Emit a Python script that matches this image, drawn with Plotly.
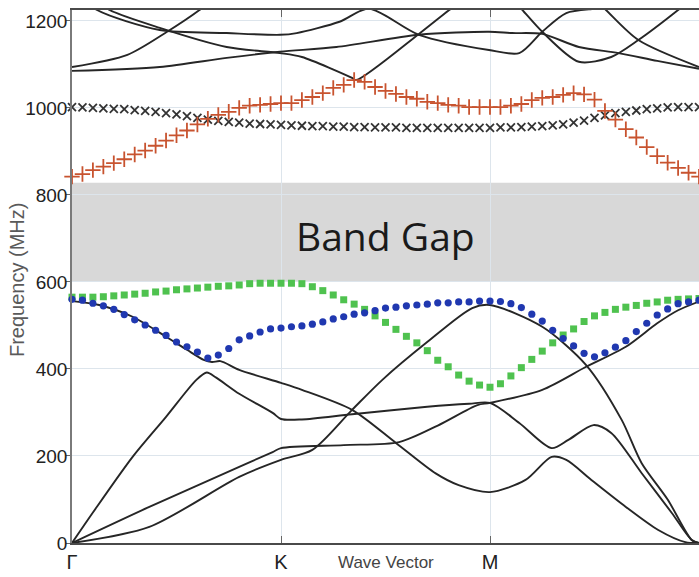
import plotly.graph_objects as go

# ---------------- data ----------------
path_ticks = [0, 20, 40, 60]
path_labels = ["Γ", "K", "M", "Γ"]
freq_ticks = [0, 200, 400, 600, 800, 1000, 1200]
freq_range = [0, 1225]
band_gap = [600, 828]

# marker bands (one value per k-point along Γ-K-M-Γ, 61 points)
red_plus = [842, 848, 857, 865, 873, 882, 893, 902, 913, 925,
            937, 948, 962, 975, 984, 991, 1000, 1005, 1007, 1009,
            1011, 1011, 1018, 1025, 1034, 1046, 1053, 1064, 1060, 1048,
            1039, 1032, 1025, 1021, 1014, 1011, 1007, 1005, 1002, 1002,
            1002, 1002, 1005, 1009, 1018, 1023, 1025, 1030, 1034, 1031,
            1019, 993, 973, 951, 932, 910, 889, 874, 862, 851,
            842]
black_x = [1002, 1001, 1000, 999, 998, 997, 995, 993, 991, 988,
           985, 981, 977, 973, 970, 968, 966, 964, 963, 962,
           961, 960, 959, 958, 958, 957, 957, 956, 956, 955,
           955, 955, 954, 954, 954, 954, 954, 954, 954, 954,
           954, 955, 955, 956, 957, 958, 960, 962, 966, 971,
           977, 983, 988, 991, 994, 997, 999, 1001, 1002, 1002,
           1002]
green_sq = [565, 565, 565, 566, 568, 570, 572, 574, 577, 579,
            582, 584, 586, 588, 590, 591, 593, 596, 597, 597,
            597, 597, 596, 589, 580, 570, 559, 549, 537, 522,
            507, 491, 475, 460, 442, 420, 405, 386, 372, 363,
            358, 366, 384, 403, 422, 441, 460, 478, 492, 509,
            522, 530, 537, 542, 546, 551, 554, 558, 560, 561,
            562]
blue_dot = [560, 558, 551, 545, 537, 525, 513, 501, 489, 477,
            462, 451, 439, 425, 432, 447, 467, 476, 485, 492,
            494, 497, 499, 503, 508, 515, 520, 526, 529, 534,
            540, 542, 545, 547, 549, 552, 552, 554, 554, 556,
            556, 555, 550, 541, 526, 510, 489, 470, 453, 436,
            428, 437, 450, 465, 486, 505, 524, 538, 550, 554,
            558]

# continuous bands (k position, frequency)
band1_k = [0, 2, 5.8, 9, 11.9, 12.9, 13.8, 16, 19.2, 20, 22, 26.8, 34, 38, 40,
           42.8, 45.9, 47.5, 49.9, 51.6, 54.5, 57.4, 59.3, 60]
band1_f = [0, 70, 198, 290, 375, 392, 380, 343, 299, 285, 284, 296, 313, 320, 322,
           276, 218, 237, 271, 253, 161, 69, 7, 0]

band2_k = [0, 2.6, 5.8, 9, 11, 12.6, 13.4, 14.2, 16, 20, 22, 26.8, 31, 34.8, 37, 40,
           43.4, 45.9, 47.3, 49.7, 53, 56.1, 58.7, 60]
band2_f = [556, 547, 520, 474, 444, 421, 416, 418, 398, 368, 352, 306, 230, 160, 133, 117,
           145, 198, 191, 145, 83, 30, 2, 0]

band3_k = [0, 7.4, 16, 19.2, 20, 26, 31.3, 35, 38.8, 40, 45, 49.2, 53, 56, 58, 60]
band3_f = [0, 83, 175, 209, 218, 225, 232, 270, 317, 322, 352, 405, 451, 505, 535, 555]

band4_k = [0, 7.4, 16, 20, 23, 26.8, 29.7, 33.9, 38.3, 40, 45, 49.2, 52.6, 54.5, 57, 59.3, 60]
band4_f = [0, 37, 152, 191, 214, 306, 375, 460, 540, 547, 497, 409, 283, 184, 100, 7, 0]

band5_k = [0, 8.4, 14.8, 19.9, 25.3, 33.2, 39.9, 42.1, 45, 48.5, 52.3, 56, 60]
band5_f = [1085, 1094, 1115, 1129, 1140, 1168, 1175, 1172, 1170, 1140, 1126, 1108, 1090]

band6_k = [0, 5.3, 9.1, 12.2, 14]
band6_f = [1094, 1122, 1175, 1225, 1260]

band7_k = [1.0, 2.4, 8.4, 14.8, 19.9, 21.5, 25.6, 28.4, 33.2, 39.9, 42.8, 45, 47.3, 50.7, 53]
band7_f = [1255, 1225, 1179, 1172, 1168, 1172, 1198, 1228, 1168, 1133, 1126, 1175, 1218, 1230, 1245]

band8_k = [2.6, 3.6, 8.4, 14.8, 19.9, 22, 26.8, 27.2, 33.2, 36.1, 37]
band8_f = [1245, 1225, 1184, 1140, 1126, 1117, 1069, 1064, 1170, 1225, 1240]

band9_k = [42.5, 43.1, 45, 48.5, 51.6, 54.2, 58, 59]
band9_f = [1240, 1225, 1175, 1106, 1117, 1156, 1225, 1245]

band10_k = [50, 51.1, 54.2, 60]
band10_f = [1250, 1225, 1156, 1094]

line_bands = [(band1_k, band1_f), (band2_k, band2_f), (band3_k, band3_f),
              (band4_k, band4_f), (band5_k, band5_f), (band6_k, band6_f),
              (band7_k, band7_f), (band8_k, band8_f), (band9_k, band9_f),
              (band10_k, band10_f)]

# ---------------- figure ----------------
fig = go.Figure()

for bk, bf in line_bands:
    fig.add_trace(go.Scatter(
        x=bk, y=bf, mode="lines",
        line=dict(color="#262626", width=1.9, shape="spline", smoothing=0.8),
        hoverinfo="skip", showlegend=False))

fig.add_trace(go.Scatter(
    y=black_x, mode="markers", cliponaxis=False, showlegend=False,
    marker=dict(symbol="x-thin", size=8, line=dict(color="#333333", width=1.8))))
fig.add_trace(go.Scatter(
    y=red_plus, mode="markers", cliponaxis=False, showlegend=False,
    marker=dict(symbol="cross-thin", size=11, line=dict(color="#c8532f", width=1.8))))
fig.add_trace(go.Scatter(
    y=green_sq, mode="markers", cliponaxis=False, showlegend=False,
    marker=dict(symbol="square", size=7, color="#4fc24f", line=dict(width=0))))
fig.add_trace(go.Scatter(
    y=blue_dot, mode="markers", cliponaxis=False, showlegend=False,
    marker=dict(symbol="circle", size=7.2, color="#2038b0", line=dict(width=0))))

fig.add_shape(type="rect", xref="paper", yref="y", x0=0, x1=1,
              y0=band_gap[0], y1=band_gap[1], fillcolor="#d8d8d8",
              line=dict(width=0), layer="between")

narrow = "Liberation Sans, Arial, sans-serif"

fig.add_annotation(x=30, y=(band_gap[0] + band_gap[1]) / 2 - 8, xref="x", yref="y",
                   text="Band Gap", showarrow=False,
                   font=dict(family="Open Sans, sans-serif", size=39, color="#1a1a1a"))
fig.add_annotation(x=30, y=-0.037, xref="x", yref="paper", text="Wave Vector",
                   showarrow=False, yanchor="middle",
                   font=dict(family=narrow, size=17, color="#444444"))
fig.add_annotation(x=-0.088, y=0.493, xref="paper", yref="paper", text="Frequency (MHz)",
                   showarrow=False, textangle=-90, xanchor="center", yanchor="middle",
                   font=dict(family=narrow, size=20, color="#5a5a5a"))

grid_col = "#dde5ec"
fig.update_layout(
    width=699, height=577,
    margin=dict(l=72, r=0, t=10, b=34, autoexpand=False),
    paper_bgcolor="white", plot_bgcolor="white",
    xaxis=dict(range=[0, 60], tickvals=path_ticks, ticktext=path_labels,
               automargin=False,
               showgrid=True, gridcolor=grid_col, gridwidth=1, zeroline=False,
               showline=True, linecolor="#4a4a4a", linewidth=2, mirror="ticks",
               ticks="inside", ticklen=7, tickcolor="#666666",
               tickfont=dict(family=narrow, size=20, color="#222222")),
    yaxis=dict(range=freq_range, tickvals=freq_ticks,
               automargin=False,
               showgrid=True, gridcolor=grid_col, gridwidth=1, zeroline=False,
               showline=True, linecolor="#7a7a7a", linewidth=1.5,
               ticks="outside", ticklen=4, tickcolor="#666666",
               ticklabelstandoff=-5,
               tickfont=dict(family=narrow, size=19, color="#222222")),
)

fig.write_html("out.html", config={"displayModeBar": False},
               post_script="document.body.style.margin='0';document.body.style.overflow='hidden';")
